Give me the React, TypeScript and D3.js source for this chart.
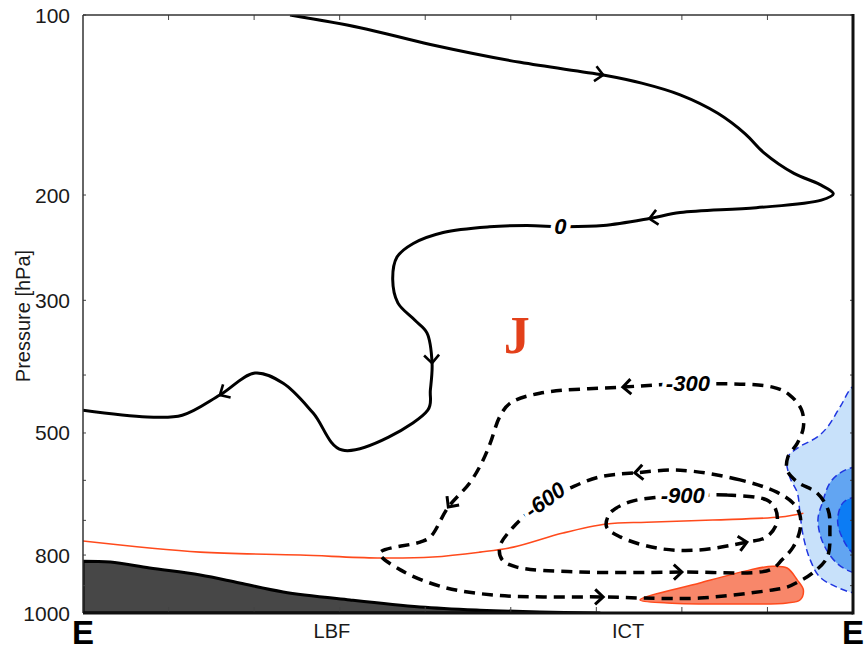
import * as d3 from "d3";

// [distance along section (0–9), pressure hPa]
type Pt = [number, number];

const zeroStream: Pt[] = [
  [2.42, 100], [3.24, 105], [4.06, 112], [5.11, 120], [6.08, 126], [6.53, 130],
  [6.98, 136], [7.42, 146], [7.74, 158], [7.96, 170], [8.31, 184], [8.61, 192],
  [8.77, 199], [8.63, 204], [7.87, 210], [6.98, 214], [6.62, 219], [6.08, 225],
  [5.63, 226], [5.19, 225], [4.75, 226], [4.21, 231], [3.86, 241], [3.67, 254],
  [3.62, 277], [3.68, 303], [3.88, 324], [4.02, 340], [4.08, 382], [4.06, 424],
  [4.03, 458], [3.03, 534], [2.69, 463], [2.34, 413], [2.01, 397], [1.6, 432],
  [1.16, 467], [0.75, 470], [0, 458],
];
const zeroArrows = [4, 16, 28, 35];

const minus300: Pt[] = [
  [8.06, 419], [7.07, 414], [6.31, 419], [5.34, 429], [4.99, 446], [4.87, 470],
  [4.76, 520], [4.66, 561], [4.52, 606], [4.27, 665], [4.06, 746], [3.94, 761],
  [3.47, 794], [3.71, 847], [4.21, 905], [4.79, 933], [5.38, 940], [6.08, 940],
  [6.55, 944], [7.21, 944], [8.06, 915], [8.23, 905], [8.36, 887], [8.53, 857],
  [8.7, 806], [8.73, 727], [8.71, 673], [8.58, 630], [8.35, 604], [8.23, 577],
  [8.24, 548], [8.35, 520], [8.42, 489], [8.4, 458], [8.26, 432],
];
const minus300Arrows = [2, 9, 17];

const minus600: Pt[] = [
  [8.11, 628], [7.68, 599], [6.98, 577], [6.45, 583], [6.04, 592], [5.69, 618],
  [5.4, 647], [5.03, 718], [4.87, 776], [4.9, 815], [5.07, 838], [5.81, 854],
  [7.0, 854], [8.03, 847], [8.17, 815], [8.3, 776], [8.38, 727], [8.38, 686],
  [8.3, 655],
];
const minus600Arrows = [3, 12];

const minus900: Pt[] = [
  [7.99, 647], [7.53, 635], [7.01, 637], [6.74, 640], [6.39, 652], [6.16, 681],
  [6.12, 718], [6.28, 746], [6.71, 779], [7.18, 785], [7.76, 761], [7.99, 746],
  [8.11, 707], [8.09, 668],
];
const minus900Arrows = [10];

const contourLabels = [
  { text: "0", x: 5.58, p: 226, rot: 0 },
  { text: "-300", x: 7.07, p: 414, rot: 0 },
  { text: "-600", x: 5.4, p: 647, rot: -36 },
  { text: "-900", x: 7.01, p: 637, rot: 0 },
];

const redLine: Pt[] = [
  [0, 758], [1.37, 791], [2.54, 800], [3.44, 809], [4.09, 806], [4.64, 791],
  [5.03, 776], [5.61, 735], [6.12, 710], [6.59, 705], [7.36, 699], [8.15, 691],
  [8.42, 681],
];

const redBlob: Pt[] = [
  [6.51, 951], [7.21, 891], [7.8, 847], [8.06, 835], [8.23, 841], [8.35, 881],
  [8.42, 915], [8.38, 951], [8.23, 962], [7.6, 966], [6.83, 962],
];

const terrain: Pt[] = [
  [0, 819], [0.32, 822], [0.78, 841], [1.37, 864], [1.83, 891], [2.34, 922],
  [3.12, 951], [3.94, 977], [4.64, 989], [5.34, 996], [6.04, 1000],
];

const blueOuter: Pt[] = [
  [9.3, 416], [9.02, 416], [8.85, 452], [8.7, 489], [8.58, 508], [8.35, 530],
  [8.23, 551], [8.26, 592], [8.35, 630], [8.38, 681], [8.42, 746], [8.5, 815],
  [8.61, 870], [8.81, 905], [9.02, 926], [9.3, 926],
];
const blueMid: Pt[] = [
  [9.3, 570], [9.02, 570], [8.85, 583], [8.73, 606], [8.64, 655], [8.59, 699],
  [8.65, 764], [8.81, 825], [9.02, 857], [9.3, 857],
];
const blueInner: Pt[] = [
  [9.3, 640], [9.02, 640], [8.88, 655], [8.82, 699], [8.87, 746], [9.02, 797],
  [9.3, 797],
];

const yTicks = [100, 200, 300, 400, 500, 600, 700, 800, 900, 1000];
const yTickLabels = [100, 200, 300, 500, 800, 1000];
const xTicks = [1, 2, 3, 4, 5, 6, 7, 8];
const places = [
  { name: "E", x: 0, big: true },
  { name: "LBF", x: 2.91, big: false },
  { name: "ICT", x: 6.37, big: false },
  { name: "E", x: 9, big: true },
];
const jetLabel = { text: "J", x: 5.07, p: 367 };

const W = 868;
const H = 649;
const left = 83;
const right = 853;
const top = 15;
const bottom = 613;
const SANS = "'Liberation Sans', Arial, sans-serif";

export default function App() {
  const x = d3.scaleLinear().domain([0, 9]).range([left, right]);
  const y = d3.scaleLog().domain([100, 1000]).range([top, bottom]);

  const line = d3.line<Pt>().x((d) => x(d[0])).y((d) => y(d[1])).curve(d3.curveCatmullRom.alpha(0.5));
  const loop = d3.line<Pt>().x((d) => x(d[0])).y((d) => y(d[1])).curve(d3.curveCatmullRomClosed.alpha(0.5));
  const terrainArea = d3
    .area<Pt>()
    .x((d) => x(d[0]))
    .y0(y(1000))
    .y1((d) => y(d[1]))
    .curve(d3.curveCatmullRom.alpha(0.5));

  // open chevron pointing along the path at point i
  const chevron = (pts: Pt[], i: number, closed: boolean, size = 11) => {
    const n = pts.length;
    const a = pts[closed ? (i - 1 + n) % n : Math.max(i - 1, 0)];
    const b = pts[closed ? (i + 1) % n : Math.min(i + 1, n - 1)];
    const ang = Math.atan2(y(b[1]) - y(a[1]), x(b[0]) - x(a[0]));
    const cx = x(pts[i][0]);
    const cy = y(pts[i][1]);
    const spread = 0.75;
    const p1 = [cx - size * Math.cos(ang - spread), cy - size * Math.sin(ang - spread)];
    const p2 = [cx - size * Math.cos(ang + spread), cy - size * Math.sin(ang + spread)];
    return `M${p1[0]},${p1[1]}L${cx},${cy}L${p2[0]},${p2[1]}`;
  };

  const dashed = { fill: "none", stroke: "#000", strokeWidth: 3.5, strokeDasharray: "11 7" };
  const blueEdge = { stroke: "#1f35e0", strokeWidth: 1.5, strokeDasharray: "7 4" };

  return (
    <svg width={W} height={H} style={{ position: "absolute", left: 0, top: 0, background: "#fff" }}>
      <defs>
        <clipPath id="plot">
          <rect x={left} y={top} width={right - left} height={bottom - top} />
        </clipPath>
      </defs>

      <g clipPath="url(#plot)">
        {/* blue (negative) anomaly on the east edge */}
        <path d={line(blueOuter) ?? ""} fill="#c8e1fa" {...blueEdge} />
        <path d={line(blueMid) ?? ""} fill="#62a5f2" {...blueEdge} />
        <path d={line(blueInner) ?? ""} fill="#0c7cf4" {...blueEdge} />

        {/* red (positive) blob near the surface */}
        <path d={loop(redBlob) ?? ""} fill="#f8876a" stroke="#ff4a1c" strokeWidth={1.5} />

        {/* terrain */}
        <path d={terrainArea(terrain) ?? ""} fill="#474747" stroke="#000" strokeWidth={3} strokeLinejoin="round" />

        {/* thin red line */}
        <path d={line(redLine) ?? ""} fill="none" stroke="#ff4a1c" strokeWidth={1.6} />

        {/* negative streamfunction contours */}
        <path d={loop(minus300) ?? ""} {...dashed} />
        <path d={loop(minus600) ?? ""} {...dashed} />
        <path d={loop(minus900) ?? ""} {...dashed} />

        {/* zero streamline */}
        <path d={line(zeroStream) ?? ""} fill="none" stroke="#000" strokeWidth={3} strokeLinejoin="round" />

        {zeroArrows.map((i) => (
          <path key={`z${i}`} d={chevron(zeroStream, i, false)} fill="none" stroke="#000" strokeWidth={2.6} />
        ))}
        {minus300Arrows.map((i) => (
          <path key={`a${i}`} d={chevron(minus300, i, true)} fill="none" stroke="#000" strokeWidth={3} />
        ))}
        {minus600Arrows.map((i) => (
          <path key={`b${i}`} d={chevron(minus600, i, true)} fill="none" stroke="#000" strokeWidth={3} />
        ))}
        {minus900Arrows.map((i) => (
          <path key={`c${i}`} d={chevron(minus900, i, true)} fill="none" stroke="#000" strokeWidth={3} />
        ))}

        {contourLabels.map((l) => (
          <text
            key={l.text}
            x={x(l.x)}
            y={y(l.p)}
            transform={`rotate(${l.rot},${x(l.x)},${y(l.p)})`}
            textAnchor="middle"
            dominantBaseline="central"
            fontFamily={SANS}
            fontStyle="italic"
            fontWeight="bold"
            fontSize={22}
            fill="#000"
            stroke="#fff"
            strokeWidth={9}
            strokeLinejoin="round"
            paintOrder="stroke"
          >
            {l.text}
          </text>
        ))}

        <text
          x={x(jetLabel.x)}
          y={y(jetLabel.p)}
          textAnchor="middle"
          fontFamily="'Liberation Serif', 'Times New Roman', serif"
          fontWeight="bold"
          fontSize={52}
          fill="#e3401a"
        >
          {jetLabel.text}
        </text>
      </g>

      {/* ticks */}
      {xTicks.map((t) => (
        <g key={`xt${t}`} stroke="#444" strokeWidth={1}>
          <line x1={x(t)} x2={x(t)} y1={top} y2={top + 5} />
          <line x1={x(t)} x2={x(t)} y1={bottom} y2={bottom - 6} />
        </g>
      ))}
      {yTicks.map((t) => (
        <g key={`yt${t}`} stroke="#444" strokeWidth={1}>
          <line x1={left} x2={left + 3} y1={y(t)} y2={y(t)} />
          <line x1={right} x2={right - 3} y1={y(t)} y2={y(t)} />
        </g>
      ))}

      {/* frame */}
      <line x1={left} x2={right} y1={top} y2={top} stroke="#333" strokeWidth={1.5} />
      <line x1={left} x2={left} y1={top} y2={bottom} stroke="#333" strokeWidth={1.5} />
      <line x1={right} x2={right} y1={top - 1} y2={bottom + 1.5} stroke="#111" strokeWidth={3} />
      <line x1={left} x2={right} y1={bottom} y2={bottom} stroke="#111" strokeWidth={3} />

      {/* y tick labels */}
      {yTickLabels.map((t) => (
        <text
          key={`yl${t}`}
          x={left - 13}
          y={y(t)}
          textAnchor="end"
          dominantBaseline="central"
          fontFamily={SANS}
          fontSize={21}
          fill="#1a1a1a"
        >
          {t}
        </text>
      ))}

      <text
        transform={`translate(23,${(y(200) + y(500)) / 2 + 2}) rotate(-90)`}
        textAnchor="middle"
        dominantBaseline="central"
        fontFamily={SANS}
        fontSize={20}
        fill="#1a1a1a"
      >
        Pressure [hPa]
      </text>

      {/* places along the section */}
      {places.map((pl, i) => (
        <text
          key={`pl${i}`}
          x={x(pl.x)}
          y={pl.big ? 644 : 638}
          textAnchor="middle"
          fontFamily={SANS}
          fontWeight={pl.big ? "bold" : "normal"}
          fontSize={pl.big ? 33 : 20}
          fill={pl.big ? "#000" : "#1a1a1a"}
        >
          {pl.name}
        </text>
      ))}
    </svg>
  );
}
